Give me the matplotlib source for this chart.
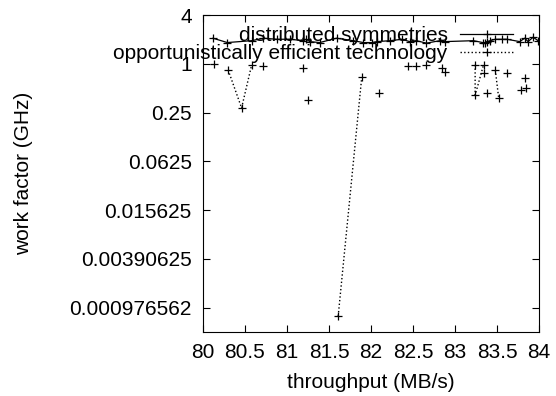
import numpy as np
import matplotlib
matplotlib.use('Agg')
import matplotlib.pyplot as plt

plt.rcParams['font.family'] = ['Liberation Sans', 'DejaVu Sans']
plt.rcParams['font.size'] = 15

# distributed symmetries (solid line)
x1 = [80.12, 80.29, 80.58, 80.72, 80.88, 81.04, 81.19, 81.23, 81.27, 81.39,
      81.59, 81.79, 81.91, 82.01, 82.07, 82.23, 82.37, 82.46, 82.54, 82.66,
      82.82, 82.88, 83.22, 83.33, 83.36, 83.38, 83.42, 83.48, 83.56, 83.62,
      83.77, 83.83, 83.87, 83.93, 83.99]
y1 = [2.07, 1.83, 1.93, 2.07, 2.01, 2.01, 1.93, 2.01, 1.88, 1.83,
      2.07, 1.93, 1.83, 1.83, 1.88, 1.93, 2.01, 1.88, 1.93, 1.80,
      1.93, 1.88, 1.93, 1.83, 1.80, 1.88, 1.93, 2.01, 2.01, 2.01,
      1.88, 2.07, 1.88, 2.13, 1.93]

# opportunistically efficient technology (dotted, nan = gap in the line)
nan = np.nan
x2 = [80.13, nan, 80.30, 80.46, 80.58, nan, 80.72, nan, 81.19, nan, 81.25, nan,
      81.61, 81.89, nan, 82.09, nan, 82.44, nan, 82.54, nan, 82.66, nan, 82.84, nan,
      82.88, nan, 83.24, 83.24, 83.34, nan, 83.35, nan, 83.38, nan, 83.48, 83.52, nan,
      83.62, nan, 83.79, nan, 83.83, nan, 83.85]
y2 = [0.99, nan, 0.84, 0.285, 0.97, nan, 0.93, nan, 0.88, nan, 0.36, nan,
      0.00077, 0.68, nan, 0.44, nan, 0.93, nan, 0.93, nan, 0.97, nan, 0.88, nan,
      0.79, nan, 0.97, 0.41, 0.97, nan, 0.77, nan, 0.44, nan, 0.84, 0.38, nan,
      0.77, nan, 0.48, nan, 0.66, nan, 0.50]

yticks = [4, 1, 0.25, 0.0625, 0.015625, 0.00390625, 0.0009765625]
ytick_labels = ['4', '1', '0.25', '0.0625', '0.015625', '0.00390625', '0.000976562']
xticks = [80, 80.5, 81, 81.5, 82, 82.5, 83, 83.5, 84]

fig = plt.figure(figsize=(5.56, 3.96), dpi=100)
ax = fig.add_axes([0.365, 0.1616, 0.6044, 0.8004])

ax.plot(x1, y1, color='black', linestyle='-', linewidth=0.9, marker='+',
        markersize=6, markeredgewidth=0.9, label='distributed symmetries')
ax.plot(x2, y2, color='black', linestyle=':', linewidth=1.0, marker='+',
        markersize=6, markeredgewidth=0.9, label='opportunistically efficient technology')

ax.set_yscale('log', base=2)
ax.set_ylim(2 ** -11, 4)
ax.set_xlim(80, 84)
ax.set_yticks(yticks)
ax.set_yticklabels(ytick_labels)
ax.yaxis.set_minor_locator(matplotlib.ticker.NullLocator())
ax.set_xticks(xticks)
ax.set_xticklabels(['80', '80.5', '81', '81.5', '82', '82.5', '83', '83.5', '84'])
ax.tick_params(direction='in', length=5, width=0.8, top=True, right=True, pad=8)

ax.set_xlabel('throughput (MB/s)', labelpad=8)
ax.set_ylabel('work factor (GHz)', labelpad=26)

ax.legend(loc='upper right', frameon=False, markerfirst=False, numpoints=1,
          handlelength=2.55, handletextpad=0.6, labelspacing=-0.05,
          borderaxespad=0, bbox_to_anchor=(0.948, 0.991))

fig.savefig('out.png', dpi=100)
